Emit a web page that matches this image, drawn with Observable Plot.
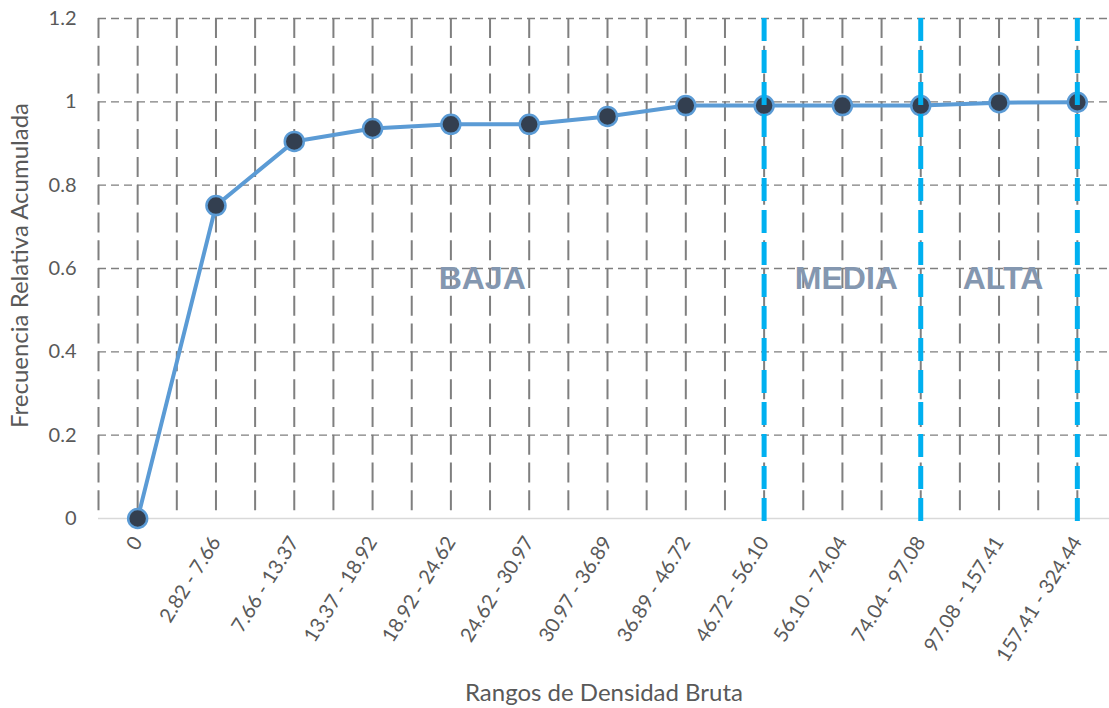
<!DOCTYPE html>
<html><head><meta charset="utf-8">
<script src="https://cdn.jsdelivr.net/npm/d3@7"></script>
<script src="https://cdn.jsdelivr.net/npm/@observablehq/plot@0.6"></script>
<style>html,body{margin:0;padding:0;background:#fff;overflow:hidden}</style>
</head><body><div id="chart"></div>
<script>
const categories = ["0","2.82 - 7.66","7.66 - 13.37","13.37 - 18.92","18.92 - 24.62","24.62 - 30.97","30.97 - 36.89","36.89 - 46.72","46.72 - 56.10","56.10 - 74.04","74.04 - 97.08","97.08 - 157.41","157.41 - 324.44"];
const values = [0, 0.751, 0.905, 0.936, 0.946, 0.946, 0.965, 0.991, 0.991, 0.991, 0.991, 0.998, 0.999];
const yTicks = [0, 0.2, 0.4, 0.6, 0.8, 1, 1.2];
const boundaryCategories = ["46.72 - 56.10", "74.04 - 97.08", "157.41 - 324.44"];
const zoneLabels = ["BAJA", "MEDIA", "ALTA"];
const zonePositions = [4.4, 9.05, 11.05];
const zoneLevel = 0.575;
const yTitle = "Frecuencia Relativa Acumulada";
const xTitle = "Rangos de Densidad Bruta";

const table = categories.map((c, i) => ({i, c, v: values[i]}));
const halfSteps = d3.range(-0.5, categories.length, 0.5);
const boundaries = boundaryCategories.map(c => categories.indexOf(c));
const zones = zoneLabels.map((t, k) => ({t, x: zonePositions[k], y: zoneLevel}));
const gridY = yTicks.filter(d => d > 0);

const plot = Plot.plot({
  width: 1109, height: 708,
  marginLeft: 98, marginRight: 0, marginTop: 18, marginBottom: 190,
  style: {fontFamily: "Lato, 'Open Sans', sans-serif", color: "#595959", background: "white", overflow: "visible"},
  x: {type: "linear", domain: [-0.5, categories.length - 0.5], range: [98, 1116], axis: null},
  y: {domain: [0, 1.2], axis: null},
  marks: [
    Plot.ruleX(halfSteps, {x: d => d, y1: 1.2, y2: 0, stroke: "#7f7f7f", strokeWidth: 2, strokeDasharray: "20,7.78"}),
    Plot.ruleY(gridY, {y: d => d, stroke: "#7f7f7f", strokeWidth: 1.4, strokeDasharray: "8,5"}),
    Plot.ruleY([0], {stroke: "#d9d9d9", strokeWidth: 1.5}),
    Plot.axisY(yTicks, {tickSize: 0, tickPadding: 22, fontSize: 20, fill: "#595959", tickFormat: d => String(d)}),
    Plot.axisX(d3.range(categories.length), {tickSize: 0, tickPadding: 20, tickRotate: -58, fontSize: 20, fill: "#595959", tickFormat: i => categories[i]}),
    Plot.text(zones, {x: "x", y: "y", text: "t", fontSize: 32, fontWeight: "bold", fontFamily: "'Liberation Sans', Arial, sans-serif", fill: "#8497b0"}),
    Plot.line(table, {x: "i", y: "v", stroke: "#5b9bd5", strokeWidth: 4}),
    Plot.dot(table, {x: "i", y: "v", r: 9.5, fill: "#333f50", stroke: "#5b9bd5", strokeWidth: 2.5}),
    Plot.ruleX(boundaries, {x: d => d, y1: 1.2, y2: 0, insetBottom: -5, stroke: "#00b0f0", strokeWidth: 5, strokeDasharray: "23,9"}),
    Plot.text([yTitle], {text: d => d, frameAnchor: "left", textAnchor: "middle", lineAnchor: "middle", dx: -78, dy: -3, rotate: -90, fontSize: 24, fill: "#595959"}),
    Plot.text([xTitle], {text: d => d, frameAnchor: "bottom", textAnchor: "middle", dy: 182, lineAnchor: "bottom", fontSize: 24, fill: "#595959"})
  ]
});
document.getElementById("chart").appendChild(plot);
</script>
</body></html>
